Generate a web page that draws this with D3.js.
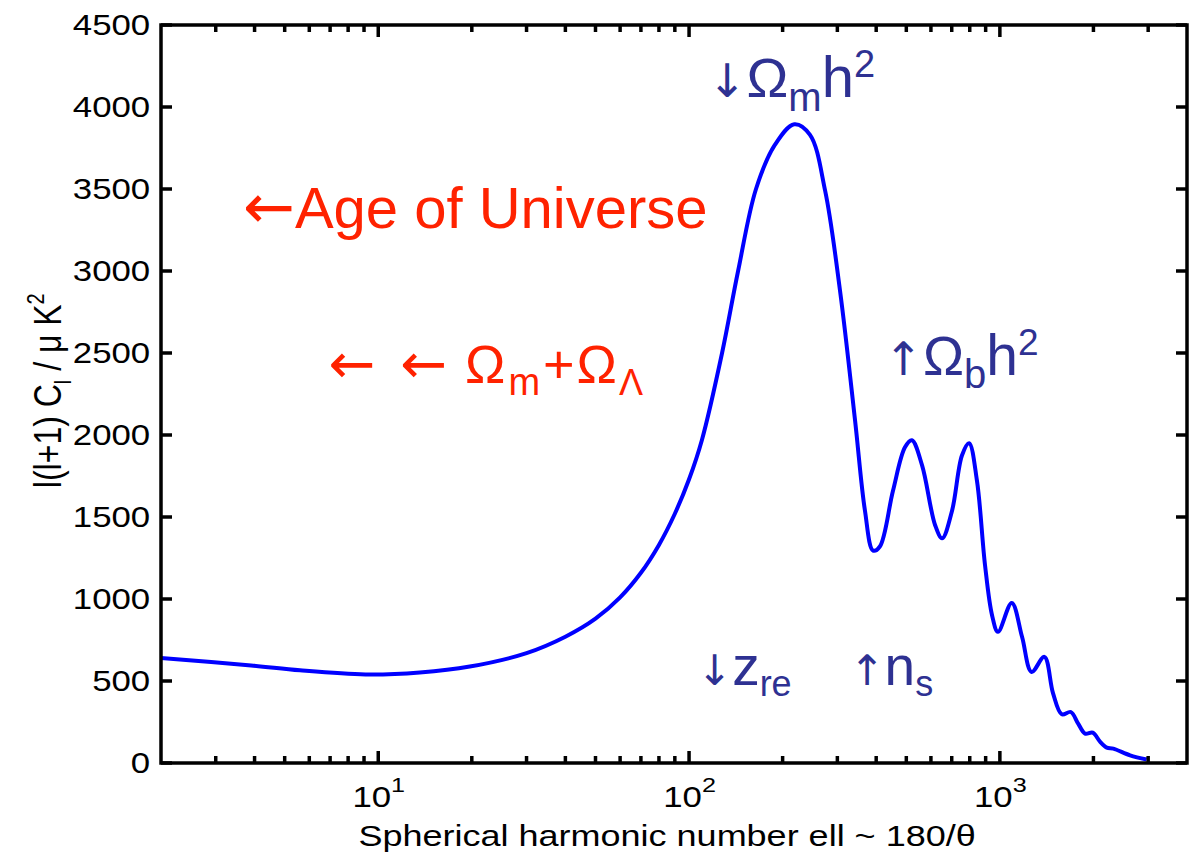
<!DOCTYPE html>
<meta charset="utf-8">
<style>
body { margin: 0; background: #fff; }
text { font-family: "Liberation Sans", Arial, Helvetica, sans-serif; }
.axis path, .axis line { display: none; }
.frame { fill: none; stroke: #000; stroke-width: 3.5; }
.curve { fill: none; stroke: #0000ff; stroke-width: 4; stroke-linejoin: round; }
.arrow { font-family: "DejaVu Sans", sans-serif; }
</style>
<body>
<script src="https://d3js.org/d3.v7.min.js"></script>
<script>

// multipole ell and l(l+1)C_l in uK^2
var ell = [2, 3.9, 5.6, 9.1, 13.6, 19.7, 30, 40, 50, 60,
           70, 80, 90, 100, 110, 127.7, 143.8, 164.2, 189, 218,
           245, 274, 306, 342, 368, 391, 411, 453, 495, 521,
           562, 619, 652, 702, 755, 796, 844, 896, 944, 986,
           1092, 1179, 1265, 1390, 1483, 1582, 1691, 1786, 1880, 1990,
           2100, 2208, 2318, 2624, 2966];
var power = [640, 595, 565, 540, 552, 588, 670, 770, 880, 1010,
             1160, 1330, 1520, 1730, 1970, 2500, 3000, 3500, 3770, 3895,
             3830, 3490, 2880, 2090, 1540, 1295, 1320, 1660, 1925, 1968,
             1815, 1450, 1370, 1540, 1875, 1950, 1720, 1205, 900, 800,
             976, 768, 555, 647, 425, 297, 311, 240, 179, 185,
             130, 94, 88, 47, 21];

var yTicks = [0, 500, 1000, 1500, 2000, 2500, 3000, 3500, 4000, 4500];
var xMajor = [10, 100, 1000];
var xMinor = [3, 4, 5, 6, 7, 8, 9, 20, 30, 40, 50, 60, 70, 80, 90,
              200, 300, 400, 500, 600, 700, 800, 900, 2000, 3000];

var xTitle = "Spherical harmonic number ell ~ 180/\u03b8";

var margin = {top: 25, right: 11, bottom: 90, left: 161},
    width = 1198 - margin.left - margin.right,
    height = 853 - margin.top - margin.bottom;

var stretch = 1.2;   // the matlab text in the picture is drawn wide

var x = d3.scaleLog().domain([2, 4000]).range([0, width]);
var y = d3.scaleLinear().domain([0, 4500]).range([height, 0]);

var svg = d3.select("body").append("svg")
    .attr("width", width + margin.left + margin.right)
    .attr("height", height + margin.top + margin.bottom)
  .append("g")
    .attr("transform", "translate(" + margin.left + "," + margin.top + ")");

// the curve
var points = ell.map(function(d, i) { return {l: d, c: power[i]}; });
var valueline = d3.line()
    .x(function(d) { return x(d.l); })
    .y(function(d) { return y(d.c); })
    .curve(d3.curveCatmullRom.alpha(0.5));

svg.append("path")
    .attr("class", "curve")
    .attr("d", valueline(points));

// tick marks, pointing inwards on all four sides
var tickLayer = svg.append("g")
    .attr("stroke", "#000")
    .attr("stroke-width", 3.5);
yTicks.forEach(function(d) {
    tickLayer.append("line")
        .attr("x1", 0).attr("x2", 11).attr("y1", y(d)).attr("y2", y(d));
    tickLayer.append("line")
        .attr("x1", width - 11).attr("x2", width).attr("y1", y(d)).attr("y2", y(d));
});
xMajor.concat(xMinor).forEach(function(d) {
    var len = xMajor.indexOf(d) >= 0 ? 12 : 7;
    tickLayer.append("line")
        .attr("x1", x(d)).attr("x2", x(d)).attr("y1", height).attr("y2", height - len);
    tickLayer.append("line")
        .attr("x1", x(d)).attr("x2", x(d)).attr("y1", 0).attr("y2", len);
});

// tick labels through the axis generators
var gy = svg.append("g").attr("class", "axis")
    .call(d3.axisLeft(y).tickValues(yTicks).tickSize(0).tickPadding(9).tickFormat(d3.format("d")));
gy.selectAll("text")
    .attr("font-size", 29).attr("fill", "#000")
    .attr("transform", "scale(" + stretch + ",1)");

var gx = svg.append("g").attr("class", "axis")
    .attr("transform", "translate(0," + height + ")")
    .call(d3.axisBottom(x).tickValues(xMajor).tickSize(0).tickPadding(23));
gx.selectAll("text").each(function(d) {
    var t = d3.select(this).text(null)
        .attr("font-size", 29).attr("fill", "#000")
        .attr("transform", "scale(" + stretch + ",1)");
    t.append("tspan").text("10");
    t.append("tspan").attr("dy", -15).attr("font-size", 21)
        .text(Math.round(Math.log10(d)));
});

// box
svg.append("rect").attr("class", "frame")
    .attr("width", width).attr("height", height);

// axis titles
svg.append("text")
    .attr("transform", "translate(" + x(85) + "," + (height + 83) + ") scale(" + stretch + ",1)")
    .attr("text-anchor", "middle")
    .attr("font-size", 30)
    .text(xTitle);

var yl = svg.append("text")
    .attr("transform", "translate(-100," + y(2270) + ") scale(" + stretch + ",1) rotate(-90)")
    .attr("text-anchor", "middle")
    .attr("font-size", 32);
yl.append("tspan").text("l(l+1) C");
yl.append("tspan").attr("font-size", 20).attr("dy", 8).text("l");
yl.append("tspan").attr("dy", -8).text(" / \u03bc K");
yl.append("tspan").attr("font-size", 20).attr("dy", -14).text("2");

// annotations: each part is [text, size, dy, dx, isArrow]
function note(lx, cy, color, size, parts) {
    var t = svg.append("text")
        .attr("x", x(lx)).attr("y", y(cy))
        .attr("fill", color).attr("font-size", size);
    parts.forEach(function(p) {
        t.append("tspan")
            .attr("class", p[4] ? "arrow" : null)
            .attr("font-size", p[1] || size)
            .attr("dy", p[2] || 0)
            .attr("dx", p[3] || 0)
            .text(p[0]);
    });
}

var red = "#ff2200", navy = "#2e3192";

note(3.67, 3260, red, 58, [["\u2190", 62, 0, 0, true], ["Age of Universe"]]);
note(6.9, 2317, red, 54, [["\u2190", 56, 0, 0, true], [" "], ["\u2190", 56, 0, 10, true], [" \u03a9", 54, 0, 3],
     ["m", 38, 12, 3], ["+", 54, -12, 3], ["\u03a9", 54, 0, 2], ["\u039b", 36, 12, 2]]);
note(115, 4060, navy, 56, [["\u2193", 46, 0, 0, true], ["\u03a9"], ["m", 40, 14], ["h", 58, -14], ["2", 38, -20]]);
note(425, 2366, navy, 55, [["\u2191", 46, 0, 0, true], ["\u03a9"], ["b", 40, 13], ["h", 57, -13], ["2", 37, -20]]);
note(106, 476, navy, 55, [["\u2193", 42, 0, 0, true], ["z"], ["re", 36, 11]]);
note(328, 476, navy, 55, [["\u2191", 42, 0, 0, true], ["n"], ["s", 36, 11]]);

</script>
</body>
